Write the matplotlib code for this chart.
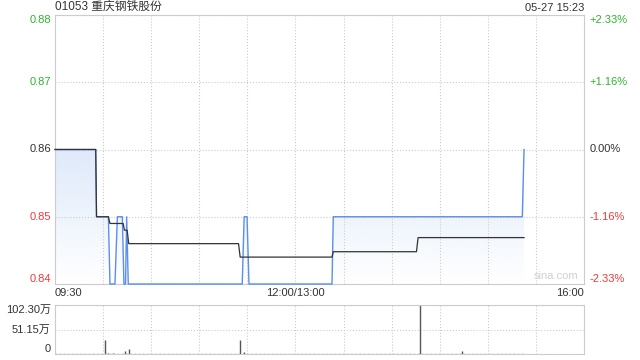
import numpy as np
import matplotlib.pyplot as plt
from matplotlib.colors import to_rgb
from matplotlib.transforms import offset_copy

plt.rcParams['font.family'] = ['Liberation Sans', 'Noto Sans CJK SC', 'DejaVu Sans']

# minutes since 09:30 (lunch break removed, 330 trading minutes)
price_t = [0, 25.4, 25.9, 33.3, 34.3, 37.4, 38.9, 42.0, 43.0, 44.0, 44.7, 45.7,
           116.8, 118.0, 119.8, 121.0, 172.8, 173.6, 291.5, 292.6]
price = [0.86, 0.86, 0.85, 0.85, 0.84, 0.84, 0.85, 0.85, 0.84, 0.84, 0.85, 0.84,
         0.84, 0.85, 0.85, 0.84, 0.84, 0.85, 0.85, 0.86]
avg_t = [0, 25.4, 25.9, 33.3, 34.3, 42.5, 43.3, 45.0, 46.0, 114.5, 115.5,
         172.8, 173.6, 225.5, 226.5, 292.6]
avg = [0.86, 0.86, 0.85, 0.85, 0.849, 0.849, 0.848, 0.848, 0.846, 0.846, 0.844,
       0.844, 0.8448, 0.8448, 0.8469, 0.8469]
vol_t = [31.2, 33.0, 36.0, 43.7, 46.0, 115.4, 118.0, 227.5, 253.7]
vol = [29.0, 3.0, 2.0, 6.0, 10.0, 29.0, 4.0, 102.3, 7.0]  # 万

price_ticks = [0.84, 0.85, 0.86, 0.87, 0.88]
pct_labels = ['-2.33%', '-1.16%', '0.00%', '+1.16%', '+2.33%']
tick_colors = ['#f03a3a', '#f03a3a', '#333333', '#2db52d', '#2db52d']
x_labels = ['09:30', '12:00/13:00', '16:00']
vol_ticks = [0, 51.15, 102.3]
vol_labels = ['0', '51.15万', '102.30万']

fig = plt.figure(figsize=(6.4, 3.6), dpi=100)
ax = fig.add_axes([55 / 640, 1 - 284 / 360, 529 / 640, 269 / 360])
axv = fig.add_axes([55 / 640, 1 - 354 / 360, 529 / 640, 49 / 360])

grid = '#cccccc'
for a in (ax, axv):
    a.set_xlim(0, 330)
    for s in a.spines.values():
        s.set_color(grid)
        s.set_linewidth(0.8)
    a.set_xticks(np.arange(30, 330, 30))
    a.tick_params(length=0, labelbottom=False, labelleft=False)
    a.grid(True, color=grid, linestyle=':', linewidth=0.8)

ax.set_ylim(0.84, 0.88)
ax.set_yticks(price_ticks)

# gradient fill under the price line
grad = np.zeros((100, 1, 4))
grad[:, 0, :3] = to_rgb('#c9dbf7')
grad[:, 0, 3] = np.linspace(0.0, 0.6, 100)
img = ax.imshow(grad, extent=[0, 330, 0.84, 0.86], origin='lower', aspect='auto', zorder=1)
poly = ax.fill_between(price_t, price, 0.84, color='none')
img.set_clip_path(poly.get_paths()[0], transform=ax.transData)

ax.plot(price_t, price, color='#5a8ef0', linewidth=1.0, zorder=3, clip_on=False)
ax.plot(avg_t, avg, color='#333333', linewidth=0.9, zorder=4, clip_on=False)

fs = 8
left_tr = offset_copy(ax.get_yaxis_transform(), fig=fig, x=-3, units='points')
right_tr = offset_copy(ax.get_yaxis_transform(), fig=fig, x=4, units='points')
for v, c, p in zip(price_ticks, tick_colors, pct_labels):
    va = 'bottom' if v == price_ticks[0] else ('top' if v == price_ticks[-1] else 'center')
    ax.text(0, v, f'{v:.2f}', transform=left_tr, ha='right', va=va, color=c, fontsize=fs)
    ax.text(1, v, p, transform=right_tr, ha='left', va=va, color=c, fontsize=fs)

for xv, lab, ha in zip([0, 150, 330], x_labels, ['left', 'center', 'right']):
    ax.text(xv, -0.015, lab, transform=ax.get_xaxis_transform(), ha=ha, va='top',
            color='#333333', fontsize=fs)

ax.text(0.99, 0.01, 'sina.com', transform=ax.transAxes, ha='right', va='bottom',
        color='#d0d0d0', fontsize=fs)

fig.text(55 / 640, 1 - 13 / 360, '01053 重庆钢铁股份', ha='left', va='bottom',
         color='#333333', fontsize=8.5)
fig.text(584 / 640, 1 - 13 / 360, '05-27 15:23', ha='right', va='bottom',
         color='#333333', fontsize=fs)

# volume panel
axv.set_ylim(0, 102.3)
axv.set_yticks(vol_ticks)
axv.vlines(vol_t, 0, vol, color='#555555', linewidth=1.0)
axv.plot([0, price_t[-1]], [0.6, 0.6], color='#666666', linewidth=1.0, linestyle=(0, (1, 2)))
vleft_tr = offset_copy(axv.get_yaxis_transform(), fig=fig, x=-3, units='points')
for v, lab in zip(vol_ticks, vol_labels):
    va = 'bottom' if v == 0 else ('top' if v == vol_ticks[-1] else 'center')
    axv.text(0, v, lab, transform=vleft_tr, ha='right', va=va, color='#333333', fontsize=fs)

fig.savefig('out.png', dpi=100)
